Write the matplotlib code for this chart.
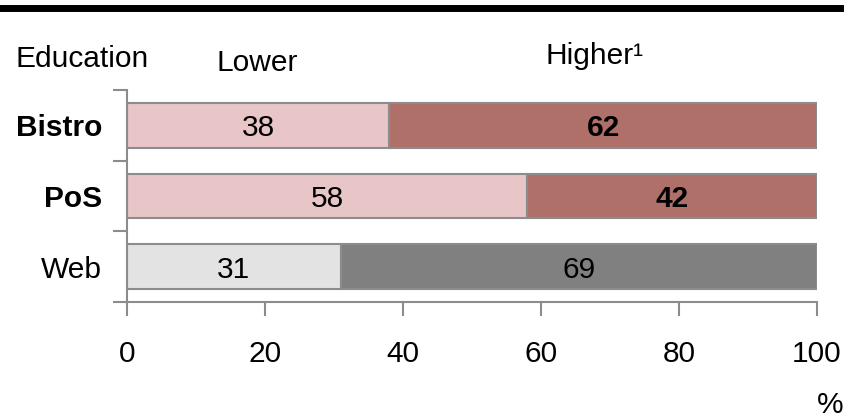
import matplotlib
matplotlib.use("Agg")
import matplotlib.pyplot as plt
from matplotlib.lines import Line2D

plt.rcParams['font.family'] = ['Liberation Sans', 'DejaVu Sans']

channels = ["Bistro", "PoS", "Web"]
lower = [38, 58, 31]
higher = [62, 42, 69]
highlight = [True, True, False]

xticks = [0, 20, 40, 60, 80, 100]

FS = 21.5
EDGE = "#8c8c8c"

fig = plt.figure(figsize=(8.47, 4.19), dpi=100)
ax = fig.add_axes([127 / 847, 1 - 302 / 419, (817 - 127) / 847, (302 - 90) / 419])

pos = list(range(len(channels)))
for i, name in enumerate(channels):
    if highlight[i]:
        c_low, c_high = "#e8c6c7", "#ae7069"
    else:
        c_low, c_high = "#e3e3e3", "#808080"
    ax.barh(i, lower[i], height=0.63, color=c_low, edgecolor=EDGE, linewidth=1.5)
    ax.barh(i, higher[i], left=lower[i], height=0.63, color=c_high,
            edgecolor=EDGE, linewidth=1.5)
    ax.text(lower[i] / 2, i, str(lower[i]), ha="center", va="center_baseline",
            fontsize=FS)
    ax.text(lower[i] + higher[i] / 2, i, str(higher[i]), ha="center",
            va="center_baseline", fontsize=FS,
            fontweight="bold" if highlight[i] else "normal")

ax.set_xlim(0, 100)
ax.set_ylim(len(channels) - 0.5, -0.5)

ax.set_xticks(xticks)
ax.set_xticklabels([str(t) for t in xticks], fontsize=FS)
ax.tick_params(axis="x", direction="out", length=10, width=1.5, color=EDGE, pad=17)

ax.set_yticks(pos)
ax.set_yticklabels(channels, fontsize=FS)
for lbl, hl in zip(ax.get_yticklabels(), highlight):
    if hl:
        lbl.set_fontweight("bold")
ax.tick_params(axis="y", which="major", length=0, pad=18)
ax.set_yticks([p - 0.5 for p in pos] + [len(channels) - 0.5], minor=True)
ax.tick_params(axis="y", which="minor", direction="out", length=10, width=1.5,
               color=EDGE)

for side in ["top", "right"]:
    ax.spines[side].set_visible(False)
for side in ["left", "bottom"]:
    ax.spines[side].set_color(EDGE)
    ax.spines[side].set_linewidth(1.5)

# header row and unit label
fig.text(15 / 847, 1 - 67 / 419, "Education", fontsize=FS, va="baseline")
fig.text(257 / 847, 1 - 71 / 419, "Lower", fontsize=FS, ha="center", va="baseline")
fig.text(545 / 847, 1 - 64 / 419, "Higher¹", fontsize=FS, va="baseline")
fig.text(843 / 847, 1 - 413 / 419, "%", fontsize=FS, ha="right", va="baseline")

fig.add_artist(Line2D([0, 840 / 847], [1 - 8.5 / 419] * 2, color="black",
                      linewidth=5, transform=fig.transFigure))

fig.savefig("out.png", dpi=100)
